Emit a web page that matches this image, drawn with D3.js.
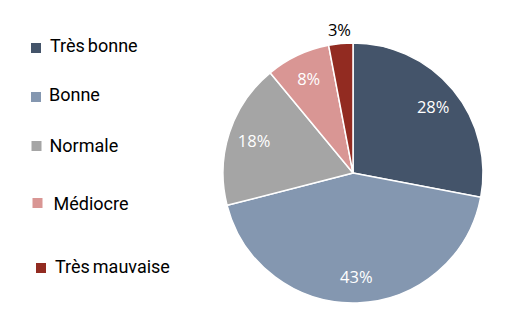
<!DOCTYPE html>
<html><head><meta charset="utf-8">
<script src="https://cdn.jsdelivr.net/npm/d3@7/dist/d3.min.js"></script>
<style>body{margin:0;background:#fff}svg{display:block}</style>
</head><body>
<script>
const categories = ["Très bonne", "Bonne", "Normale", "Médiocre", "Très mauvaise"];
const values = [28, 43, 18, 8, 3];
const colors = ["#44546A", "#8497B0", "#A5A5A5", "#D99694", "#922B21"];
const labels = ["28%", "43%", "18%", "8%", "3%"];

const W = 516, H = 330;
const svg = d3.select("body").append("svg").attr("width", W).attr("height", H);
const cx = 353, cy = 173, R = 130;

const data = categories.map((c, i) => ({cat: c, value: values[i], color: colors[i], label: labels[i]}));
const pie = d3.pie().value(d => d.value).sort(null);
const arcs = pie(data);
const arc = d3.arc().innerRadius(0).outerRadius(R);
const labelArc = d3.arc().innerRadius(104).outerRadius(104);
const outArc = d3.arc().innerRadius(144).outerRadius(144);

const g = svg.append("g").attr("transform", `translate(${cx},${cy})`);
g.selectAll("path").data(arcs).join("path")
  .attr("d", arc).attr("fill", d => d.data.color)
  .attr("stroke", "#fff").attr("stroke-width", 1.5);

g.selectAll("text").data(arcs).join("text")
  .attr("transform", (d, i) => `translate(${(i === 4 ? outArc : labelArc).centroid(d)})`)
  .attr("text-anchor", "middle").attr("dy", "0.36em")
  .attr("font-family", "'Open Sans', sans-serif").attr("font-size", 16.5)
  .attr("fill", (d, i) => i === 4 ? "#000" : "#fff")
  .text(d => d.data.label);

// legend
const legendPos = [
  {sx: 31, sy: 43, tx: 50, ty: 52},
  {sx: 31, sy: 92, tx: 49, ty: 101},
  {sx: 31.5, sy: 141, tx: 49.5, ty: 152},
  {sx: 32.5, sy: 198, tx: 53.5, ty: 210},
  {sx: 36, sy: 263, tx: 55, ty: 273}
];
const lg = svg.append("g");
data.forEach((d, i) => {
  const p = legendPos[i];
  lg.append("rect").attr("x", p.sx).attr("y", p.sy).attr("width", 10).attr("height", 10).attr("fill", d.color);
  lg.append("text").attr("x", p.tx).attr("y", p.ty)
    .attr("font-family", "Roboto, sans-serif").attr("font-size", 18)
    .attr("word-spacing", -1.5)
    .attr("fill", "#000").text(d.cat);
});
</script>
</body></html>
